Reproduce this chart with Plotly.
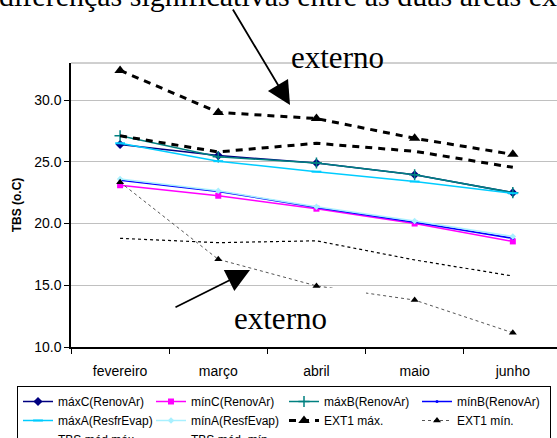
import plotly.graph_objects as go

months = ["fevereiro", "março", "abril", "maio", "junho"]

maxC_renov = [26.4, 25.5, 24.9, 23.95, 22.5]
minC_renov = [23.1, 22.25, 21.2, 20.0, 18.55]
maxB_renov = [27.1, 25.4, 24.9, 23.95, 22.5]
minB_renov = [23.5, 22.6, 21.3, 20.1, 18.8]
maxA_resfr = [26.5, 25.05, 24.2, 23.4, 22.45]
minA_resf = [23.6, 22.65, 21.35, 20.2, 18.95]
ext1_max = [32.4, 29.0, 28.5, 26.9, 25.6]
ext1_min = [23.35, 17.1, 14.95, 13.8, 11.15]
tbs_med_max = [27.1, 25.8, 26.5, 25.85, 24.55]
tbs_med_min = [18.8, 18.45, 18.6, 17.05, 15.75]

y_ticks = [10, 15, 20, 25, 30]

W, H = 557, 438
L, T, PW, PH = 71, 63, 486, 284


def px(x):
    return (x - L) / PW


def py(y):
    return (T + PH - y) / PH


fig = go.Figure()

series = [
    ("máxC(RenovAr)", maxC_renov, dict(color="#000080", width=1.5), dict(symbol="diamond", size=7, color="#000080")),
    ("mínC(RenovAr)", minC_renov, dict(color="#FF00FF", width=1.5), dict(symbol="square", size=6, color="#FF00FF")),
    ("máxB(RenovAr)", maxB_renov, dict(color="#008080", width=1.5), dict(symbol="cross-thin", size=8, color="#008080", line=dict(width=1.5, color="#008080"))),
    ("mínB(RenovAr)", minB_renov, dict(color="#0000FF", width=1.5), dict(symbol="circle", size=3, color="#0000FF")),
    ("máxA(ResfrEvap)", maxA_resfr, dict(color="#00CCFF", width=1.5), dict(symbol="line-ew", size=7, color="#00CCFF", line=dict(width=2, color="#00CCFF"))),
    ("mínA(ResfEvap)", minA_resf, dict(color="#A8F0FF", width=1.5), dict(symbol="diamond", size=5, color="#A8F0FF")),
    ("EXT1 máx.", ext1_max, dict(color="black", width=3, dash="7px,6px"), dict(symbol="triangle-up", size=10, color="black")),
    ("EXT1 mín.", ext1_min, dict(color="#555555", width=1, dash="dot"), dict(symbol="triangle-up", size=7, color="black")),
    ("TBS méd.máx.", tbs_med_max, dict(color="black", width=3, dash="7px,6px"), None),
    ("TBS méd. mín.", tbs_med_min, dict(color="black", width=1.2, dash="3px,3px"), None),
]

for name, vals, line, marker in series:
    if marker is None:
        fig.add_trace(go.Scatter(x=months, y=vals, name=name, mode="lines", line=line))
    else:
        fig.add_trace(go.Scatter(x=months, y=vals, name=name, mode="lines+markers", line=line, marker=marker))

fig.update_layout(
    width=W, height=H,
    margin=dict(l=L, r=W - L - PW, t=T, b=H - T - PH, autoexpand=False),
    paper_bgcolor="white", plot_bgcolor="white",
    font=dict(family="Liberation Sans, Arial", size=14, color="black"),
    showlegend=True,
    legend=dict(
        orientation="h", xref="paper", yref="paper",
        x=px(17), y=py(386), xanchor="left", yanchor="top",
        bordercolor="black", borderwidth=1, bgcolor="white",
        font=dict(size=12, family="Liberation Sans, Arial"),
        entrywidth=88, entrywidthmode="pixels", itemwidth=30,
        traceorder="normal",
    ),
    xaxis=dict(
        type="category", categoryorder="array", categoryarray=months,
        range=[-0.5, 4.45], tickson="boundaries", ticks="outside", ticklen=5,
        tickcolor="black", showline=True, linecolor="black", linewidth=1.5,
        showgrid=False, ticklabelstandoff=10, fixedrange=True,
    ),
    yaxis=dict(
        range=[10, 33], tickvals=y_ticks, tickformat=".1f", ticks="outside",
        ticklen=5, tickcolor="black", showline=True, linecolor="black",
        linewidth=1.5, showgrid=True, gridcolor="#C0C0C0", gridwidth=1,
        zeroline=False,
        title=dict(text="<b>TBS (o.C)</b>", font=dict(size=12), standoff=10),
    ),
)

# top border of plot area
fig.add_shape(type="line", xref="paper", yref="paper", x0=0, x1=1, y0=1, y1=1,
              line=dict(color="#A0A0A0", width=1), layer="below")
# white text box that hides part of the EXT1 min line
fig.add_shape(type="rect", xref="paper", yref="paper",
              x0=px(230), x1=px(366), y0=py(336), y1=py(288),
              fillcolor="white", line=dict(width=0), layer="above")

serif = "Liberation Serif, Times New Roman, serif"
fig.add_annotation(text="diferenças significativas entre as duas áreas externas",
                   xref="paper", yref="paper", x=px(-3), y=py(-5),
                   xanchor="left", yanchor="middle", showarrow=False,
                   font=dict(family=serif, size=30, color="black"))
fig.add_annotation(text="externo", xref="paper", yref="paper", x=px(337), y=py(58),
                   xanchor="center", yanchor="middle", showarrow=False,
                   font=dict(family=serif, size=31, color="black"))
fig.add_annotation(text="externo", xref="paper", yref="paper", x=px(280), y=py(318),
                   xanchor="center", yanchor="middle", showarrow=False,
                   font=dict(family=serif, size=31, color="black"))
fig.add_annotation(text="", xref="paper", yref="paper", x=px(290), y=py(105),
                   ax=-58, ay=-97, showarrow=True, arrowhead=2, arrowsize=2.6,
                   arrowwidth=1.8, arrowcolor="black", standoff=0)
fig.add_annotation(text="", xref="paper", yref="paper", x=px(250), y=py(270),
                   ax=-76, ay=38, showarrow=True, arrowhead=2, arrowsize=2.6,
                   arrowwidth=1.8, arrowcolor="black", standoff=0)

fig.write_html("out.html")
